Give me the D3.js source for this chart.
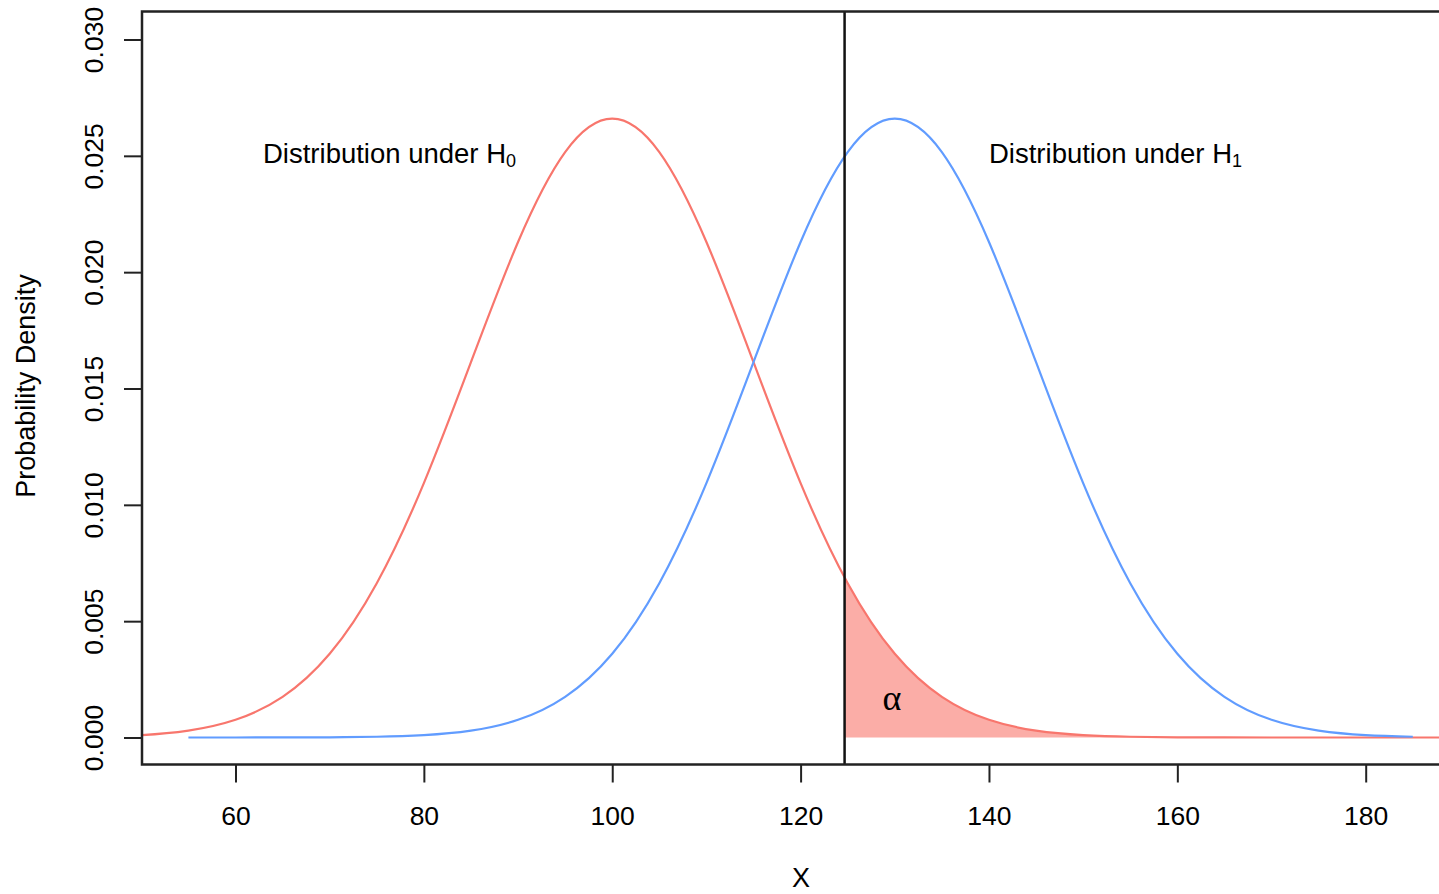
<!DOCTYPE html>
<html>
<head>
<meta charset="utf-8">
<script src="https://cdn.jsdelivr.net/npm/d3@7"></script>
<style>
  body { margin: 0; background: #fff; }
  text { font-family: "Liberation Sans", Arial, sans-serif; fill: #000; }
</style>
</head>
<body>
<div id="root"></div>
<script>
const w = 1439;
const h = 894;

// values
const xTicks = [60, 80, 100, 120, 140, 160, 180];
const yTicks = [0, 0.005, 0.01, 0.015, 0.02, 0.025, 0.03];
const yTickLabels = ["0.000", "0.005", "0.010", "0.015", "0.020", "0.025", "0.030"];

const h0X = [45, 50, 55, 60, 65, 70, 75, 80, 85, 90, 95, 100, 105, 110, 115,
  120, 125, 130, 135, 140, 145, 150, 155, 160, 165, 170, 175, 180, 185, 190];
const h0Density = [0.000032, 0.000103, 0.000295, 0.00076, 0.001748, 0.003599,
  0.006632, 0.010934, 0.016131, 0.021297, 0.025159, 0.026596, 0.025159,
  0.021297, 0.016131, 0.010934, 0.006632, 0.003599, 0.001748, 0.00076,
  0.000295, 0.000103, 0.000032, 0.000009, 0.000002, 0, 0, 0, 0, 0];

const h1X = [55, 60, 65, 70, 75, 80, 85, 90, 95, 100, 105, 110, 115, 120, 125,
  130, 135, 140, 145, 150, 155, 160, 165, 170, 175, 180, 185];
const h1Density = [0, 0.0000005, 0.000002, 0.000009, 0.000032, 0.000103,
  0.000295, 0.00076, 0.001748, 0.003599, 0.006632, 0.010934, 0.016131,
  0.021297, 0.025159, 0.026596, 0.025159, 0.021297, 0.016131, 0.010934,
  0.006632, 0.003599, 0.001748, 0.00076, 0.000295, 0.000103, 0.000032];

const criticalX = 124.67;

const boxLeft = 142;
const boxTop = 11.5;
const boxBottom = 764.5;
const boxRight = 1520;

const svg = d3
  .select("#root")
  .append("svg")
  .attr("width", w)
  .attr("height", h);

const xScale = d3.scaleLinear().domain([60, 180]).range([235.5, 1365.7]);
const yScale = d3.scaleLinear().domain([0, 0.03]).range([737.5, 39.5]);

const h0 = h0X.map((x, i) => ({ x, y: h0Density[i] }));
const h1 = h1X.map((x, i) => ({ x, y: h1Density[i] }));

const defs = svg.append("defs");
defs
  .append("clipPath")
  .attr("id", "plot-clip")
  .append("rect")
  .attr("x", boxLeft)
  .attr("y", boxTop)
  .attr("width", boxRight - boxLeft)
  .attr("height", boxBottom - boxTop);
defs
  .append("clipPath")
  .attr("id", "tail-clip")
  .append("rect")
  .attr("x", xScale(criticalX))
  .attr("y", boxTop)
  .attr("width", boxRight - xScale(criticalX))
  .attr("height", boxBottom - boxTop);

const curve = d3.curveNatural;

const line = d3
  .line()
  .x((d) => xScale(d.x))
  .y((d) => yScale(Math.max(d.y, 0)))
  .curve(curve);

const area = d3
  .area()
  .x((d) => xScale(d.x))
  .y0(yScale(0))
  .y1((d) => yScale(d.y))
  .curve(curve);

const plot = svg.append("g").attr("clip-path", "url(#plot-clip)");

// rejection region under H0
plot
  .append("g")
  .attr("clip-path", "url(#tail-clip)")
  .append("path")
  .datum(h0)
  .attr("d", area)
  .attr("fill", "rgba(248, 118, 109, 0.6)");

plot
  .append("path")
  .datum(h0)
  .attr("d", line)
  .attr("fill", "none")
  .attr("stroke", "#F8766D")
  .attr("stroke-width", 2.2);

plot
  .append("path")
  .datum(h1)
  .attr("d", line)
  .attr("fill", "none")
  .attr("stroke", "#619CFF")
  .attr("stroke-width", 2.2);

plot
  .append("line")
  .attr("x1", xScale(criticalX))
  .attr("x2", xScale(criticalX))
  .attr("y1", boxTop)
  .attr("y2", boxBottom)
  .attr("stroke", "#111")
  .attr("stroke-width", 2.5);

// box
svg
  .append("rect")
  .attr("x", boxLeft)
  .attr("y", boxTop)
  .attr("width", boxRight - boxLeft)
  .attr("height", boxBottom - boxTop)
  .attr("fill", "none")
  .attr("stroke", "#222")
  .attr("stroke-width", 2.5);

// axes
const xAxis = d3.axisBottom(xScale).tickValues(xTicks).tickSize(18);
const gx = svg
  .append("g")
  .attr("transform", `translate(0,${boxBottom})`)
  .call(xAxis);
gx.select(".domain").remove();
gx.selectAll("line").attr("stroke", "#222").attr("stroke-width", 2);
gx.selectAll("text")
  .attr("y", 60)
  .attr("dy", 0)
  .attr("fill", "#000")
  .style("font-size", "26.5px")
  .style("font-family", '"Liberation Sans", Arial, sans-serif');

const yAxis = d3
  .axisLeft(yScale)
  .tickValues(yTicks)
  .tickFormat((d, i) => yTickLabels[i])
  .tickSize(18);
const gy = svg
  .append("g")
  .attr("transform", `translate(${boxLeft},0)`)
  .call(yAxis);
gy.select(".domain").remove();
gy.selectAll("line").attr("stroke", "#222").attr("stroke-width", 2);
gy.selectAll("text")
  .attr("x", 0)
  .attr("y", -39)
  .attr("dy", 0)
  .attr("transform", "rotate(-90)")
  .attr("text-anchor", "middle")
  .attr("fill", "#000")
  .style("font-size", "26.5px")
  .style("font-family", '"Liberation Sans", Arial, sans-serif');

// axis titles
svg
  .append("text")
  .attr("x", 801)
  .attr("y", 887)
  .attr("text-anchor", "middle")
  .style("font-size", "27px")
  .text("X");

svg
  .append("text")
  .attr("transform", "translate(35,386) rotate(-90)")
  .attr("text-anchor", "middle")
  .style("font-size", "27px")
  .text("Probability Density");

// labels
const labelH0 = svg
  .append("text")
  .attr("x", 263)
  .attr("y", 163)
  .style("font-size", "27.5px")
  .text("Distribution under H");
labelH0.append("tspan").attr("dy", 4).style("font-size", "18px").text("0");

const labelH1 = svg
  .append("text")
  .attr("x", 989)
  .attr("y", 163)
  .style("font-size", "27.5px")
  .text("Distribution under H");
labelH1.append("tspan").attr("dy", 4).style("font-size", "18px").text("1");

svg
  .append("text")
  .attr("x", 892)
  .attr("y", 710)
  .attr("text-anchor", "middle")
  .style("font-size", "36px")
  .style("font-family", '"Liberation Serif", serif')
  .text("α");
</script>
</body>
</html>
